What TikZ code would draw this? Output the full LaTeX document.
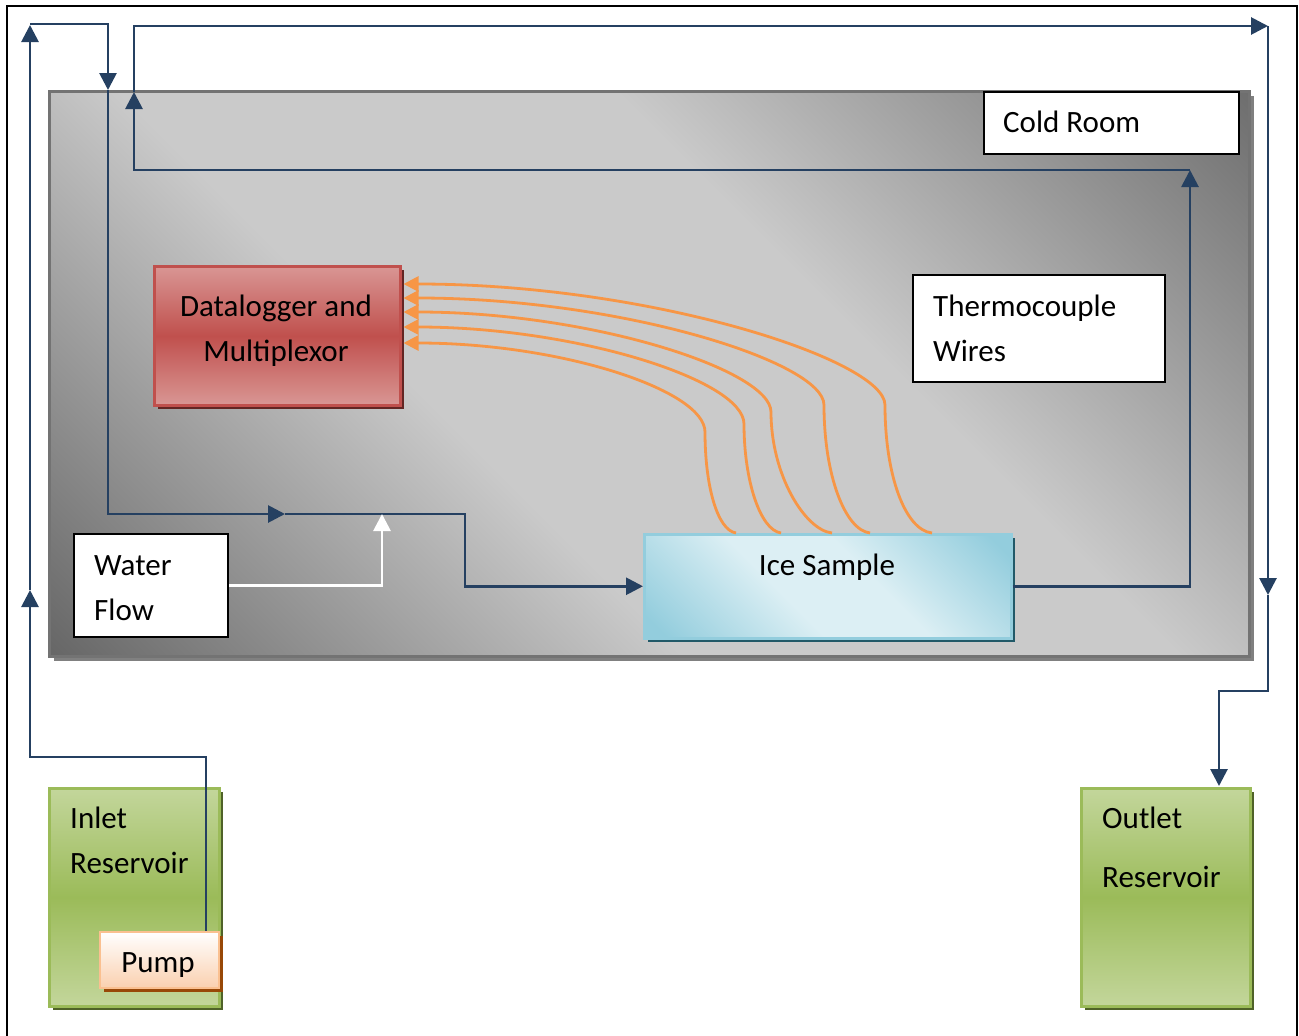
\documentclass[tikz,border=0pt]{standalone}
\usepackage{fontspec}
\setmainfont{Carlito}
\usetikzlibrary{arrows.meta,shadows,calc}
\definecolor{navy}{RGB}{37,64,97}
\definecolor{wireorange}{RGB}{247,150,70}
\definecolor{crdark}{RGB}{100,100,100}
\definecolor{crdarkb}{RGB}{108,108,108}
\definecolor{crlight}{RGB}{202,202,202}
\definecolor{crborder}{RGB}{115,115,115}
\definecolor{crshadow}{RGB}{128,128,128}
\definecolor{icedark}{RGB}{147,205,221}
\definecolor{icelight}{RGB}{220,239,244}
\definecolor{iceshadow}{RGB}{33,89,104}
\definecolor{redlight}{RGB}{217,150,148}
\definecolor{redmid}{RGB}{192,80,77}
\definecolor{redshadow}{RGB}{99,37,35}
\definecolor{greenlight}{RGB}{195,214,155}
\definecolor{greenmid}{RGB}{155,187,89}
\definecolor{greenshadow}{RGB}{79,98,40}
\definecolor{peach}{RGB}{250,208,175}
\definecolor{peachborder}{RGB}{250,192,144}
\definecolor{pumpshadow}{RGB}{152,72,7}
\pgfdeclarehorizontalshading{coldroomshade}{100bp}{color(0bp)=(crdark); color(14bp)=(crdark); color(40bp)=(crlight); color(60bp)=(crlight); color(86bp)=(crdarkb); color(100bp)=(crdarkb)}
\pgfdeclarehorizontalshading{iceshade}{100bp}{color(0bp)=(icedark); color(18bp)=(icedark); color(42bp)=(icelight); color(58bp)=(icelight); color(82bp)=(icedark); color(100bp)=(icedark)}
\tikzset{
  flow/.style={draw=navy, line width=2.8pt, -{Triangle[width=17pt,length=17pt]}},
  wire/.style={draw=wireorange, line width=2.8pt, -{Triangle[width=15pt,length=15pt]}},
  txt/.style={font=\fontsize{31}{45}\selectfont, inner sep=0pt, anchor=base west, align=left},
  whitebox/.style={draw=black, line width=2pt, fill=white, anchor=north west, inner sep=0pt},
  colorbox/.style={anchor=north west, inner sep=0pt, line width=2.5pt},
}
\begin{document}
\begin{tikzpicture}[x=1pt,y=-1pt]
\useasboundingbox (0,0) rectangle (1299,1036);
\begin{scope}
  \clip (0,0) rectangle (1299,1036);
  \draw[line width=2pt] (7,6) rectangle (1297,1070);
\end{scope}
% cold room
\node[colorbox, draw=crborder, shading=coldroomshade, shading angle=45,
      general shadow={fill=crshadow, shadow xshift=5pt, shadow yshift=-5pt},
      minimum width=1200pt, minimum height=565pt] (cold) at (48,90) {};
\node[whitebox, minimum width=255pt, minimum height=62pt] (coldlbl) at (983,91) {};
\node[txt] (coldtxt) at (1003,132) {Cold Room};
% thermocouple label
\node[whitebox, minimum width=252pt, minimum height=107pt] (thermo) at (912,274) {};
\node[txt] (thermotxt) at (933,361) {Thermocouple\\Wires};
% water flow label
\node[whitebox, minimum width=154pt, minimum height=103pt] (water) at (73,533) {};
\node[txt] (watertxt) at (94,620) {Water\\Flow};
% datalogger
\node[colorbox, draw=redmid, top color=redlight, bottom color=redlight, middle color=redmid,
      general shadow={fill=redshadow, shadow xshift=4pt, shadow yshift=-4pt},
      minimum width=246pt, minimum height=139pt] (dl) at (153,265) {};
\node[txt, align=center, anchor=base] (dltxt) at (276,361) {Datalogger and\\Multiplexor};
% ice sample
\node[colorbox, draw=icedark, shading=iceshade, shading angle=45,
      general shadow={fill=iceshadow, shadow xshift=4pt, shadow yshift=-4pt},
      minimum width=367pt, minimum height=104pt] (ice) at (643,533) {};
\node[txt, anchor=base] (icetxt) at (827,575) {Ice Sample};
% reservoirs
\node[colorbox, draw=greenmid, top color=greenlight, bottom color=greenlight, middle color=greenmid,
      general shadow={fill=greenshadow, shadow xshift=4pt, shadow yshift=-4pt},
      minimum width=170pt, minimum height=218pt] (inlet) at (48,787) {};
\node[txt] (inlettxt) at (70,873) {Inlet\\Reservoir};
\node[colorbox, draw=greenmid, top color=greenlight, bottom color=greenlight, middle color=greenmid,
      general shadow={fill=greenshadow, shadow xshift=4pt, shadow yshift=-4pt},
      minimum width=169pt, minimum height=218pt] (outlet) at (1080,787) {};
\node[txt, font=\fontsize{31}{59}\selectfont] (outlettxt) at (1102,887) {Outlet\\Reservoir};
% coordinates for connectors
\coordinate (pumpout) at (206,931);
\coordinate (a1) at (30,590);
\coordinate (a2) at (30,25);
\coordinate (a3) at (108,90);
\coordinate (a4) at (285,514);
\coordinate (b1) at (1190,170);
\coordinate (b2) at (134,92);
\coordinate (b3) at (1268,26);
\coordinate (b4) at (1268,595);
\coordinate (outin) at (1219,786);
\coordinate (w1) at (382,514);
% inlet path
\draw[flow] (pumpout) -- (206,757) -- (30,757) -- (a1);
\draw[flow] (a1) -- (a2);
\draw[flow] (30,24) -- (108,24) -- (a3);
\draw[flow] (a3) |- (a4);
\draw[flow] (a4) -- (465,514) |- (ice.west);
% return path
\draw[flow] (ice.east) -| (b1);
\draw[flow] (b1) -| (b2);
\draw[flow] (b2) |- (b3);
\draw[flow] (b3) -- (b4);
\draw[flow] (b4) -- (1268,691) -| (outin);
% water flow pointer
\draw[draw=white, line width=2.8pt, -{Triangle[width=17pt,length=17pt]}] (water.east) -| (w1);
% thermocouple wires
\coordinate (t1) at ($(dl.north east)+(2,19)$);
\coordinate (t2) at ($(dl.north east)+(2,33)$);
\coordinate (t3) at ($(dl.north east)+(2,47)$);
\coordinate (t4) at ($(dl.north east)+(2,62)$);
\coordinate (t5) at ($(dl.north east)+(2,78)$);
\coordinate (s1) at ($(ice.north west)+(289,0)$);
\coordinate (s2) at ($(ice.north west)+(227,0)$);
\coordinate (s3) at ($(ice.north west)+(189,0)$);
\coordinate (s4) at ($(ice.north west)+(138,0)$);
\coordinate (s5) at ($(ice.north west)+(93,0)$);
\draw[wire] (s1) .. controls (905,530) and (885,475) .. (885,405) .. controls (885,360) and (650,284) .. (t1);
\draw[wire] (s2) .. controls (845,530) and (824,475) .. (824,405) .. controls (824,362) and (620,298) .. (t2);
\draw[wire] (s3) .. controls (805,530) and (771,475) .. (771,412) .. controls (771,370) and (590,312) .. (t3);
\draw[wire] (s4) .. controls (760,530) and (744,480) .. (744,424) .. controls (744,380) and (575,327) .. (t4);
\draw[wire] (s5) .. controls (717,530) and (705,485) .. (705,432) .. controls (705,390) and (560,343) .. (t5);
% pump
\node[colorbox, draw=peachborder, top color=white, bottom color=peach, line width=2pt,
      general shadow={fill=pumpshadow, shadow xshift=4pt, shadow yshift=-4pt},
      minimum width=119pt, minimum height=56pt] (pump) at (99,931) {};
\node[txt, anchor=base] (pumptxt) at (158,972) {Pump};
\end{tikzpicture}
\end{document}
